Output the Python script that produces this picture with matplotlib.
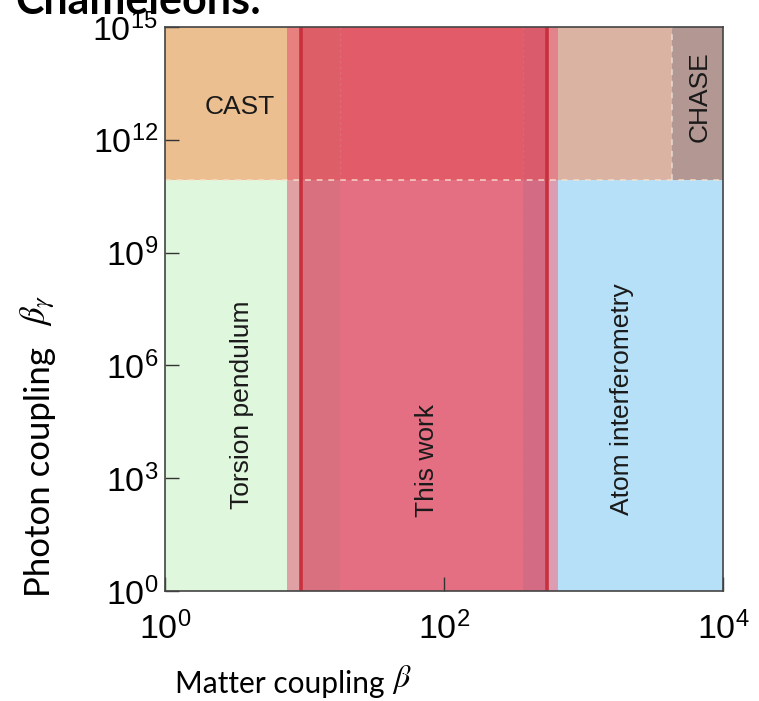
import matplotlib
matplotlib.use("Agg")
import matplotlib.pyplot as plt
import numpy as np

plt.rcParams["mathtext.fontset"] = "custom"
plt.rcParams["mathtext.rm"] = "Liberation Sans"
plt.rcParams["mathtext.it"] = "Liberation Sans:italic"
plt.rcParams["mathtext.bf"] = "Liberation Sans:bold"

# ---- data ----
x_min, x_max = 1.0, 1e4
y_min, y_max = 1.0, 1e15
cast_limit = 8.5e10          # CAST photon-coupling bound
torsion_max = 7.45           # torsion pendulum upper beta
work_lo = 9.4                # this work: lower red line
work_hi = 550.0              # this work: upper red line
work_inner_lo = 18.0         # darker inner band edges
work_inner_hi = 368.0
atom_min = 656.0             # atom interferometry lower beta
chase_min = 4300.0           # CHASE lower beta

labels = ["CAST", "Torsion pendulum", "This work", "Atom interferometry", "CHASE"]
label_x = [3.45, 3.56, 75.5, 1890.0, 6840.0]
label_y = [10**12.87, 10**4.95, 10**3.48, 10**5.1, 10**13.14]
label_rot = [0, 90, 90, 90, 90]

xticks = [1, 1e2, 1e4]
yticks = [1, 1e3, 1e6, 1e9, 1e12, 1e15]

fig = plt.figure(figsize=(7.59, 7.01), dpi=100)
ax = fig.add_axes([165/759, 1-591/701, (723-165)/759, (591-27)/701])
ax.set_xscale("log")
ax.set_yscale("log")
ax.set_xlim(x_min, x_max)
ax.set_ylim(y_min, y_max)

def rect(x0, x1, y0, y1, color, z=1):
    ax.fill_between([x0, x1], [y0, y0], [y1, y1], color=color, lw=0, zorder=z)

# lower (below CAST) and upper (above CAST) colours
rect(x_min, torsion_max, y_min, cast_limit, "#dff7dc")
rect(x_min, torsion_max, cast_limit, y_max, "#ecbf90")
rect(torsion_max, work_lo, y_min, cast_limit, "#dfa1a4")
rect(torsion_max, work_lo, cast_limit, y_max, "#e8807f")
rect(work_lo, work_hi, y_min, cast_limit, "#e56f82")
rect(work_lo, work_hi, cast_limit, y_max, "#e25b68")
rect(work_lo, work_inner_lo, y_min, cast_limit, "#d9707f", 2)
rect(work_lo, work_inner_lo, cast_limit, y_max, "#dd5e66", 2)
rect(work_inner_hi, work_hi, y_min, cast_limit, "#d36b85", 2)
rect(work_inner_hi, work_hi, cast_limit, y_max, "#da5b6c", 2)
rect(work_hi, atom_min, y_min, cast_limit, "#dc9cb2")
rect(work_hi, atom_min, cast_limit, y_max, "#e3848c")
rect(atom_min, x_max, y_min, cast_limit, "#b5e0f8")
rect(atom_min, chase_min, cast_limit, y_max, "#dab3a3")
rect(chase_min, x_max, cast_limit, y_max, "#b29792")

# boundaries
ax.plot([x_min, x_max], [cast_limit, cast_limit], ls=(0, (3, 3)), color="#f6e2cf",
        lw=1.4, alpha=0.7, zorder=3)
ax.plot([chase_min, chase_min], [cast_limit, y_max], ls=(0, (3, 3)), color="#ece0dc",
        lw=1.4, alpha=0.7, zorder=3)
ax.plot([work_inner_lo, work_inner_lo], [y_min, y_max], ls=(0, (2, 2)), color="#e07585",
        lw=1.0, alpha=0.6, zorder=3)
ax.plot([work_inner_hi, work_inner_hi], [y_min, y_max], ls=(0, (2, 2)), color="#d87088",
        lw=1.0, alpha=0.6, zorder=3)
for xv in (work_lo, work_hi):
    ax.plot([xv, xv], [y_min, y_max], color="#c9303d", lw=2.6, zorder=4)

for t, xx, yy, r in zip(labels, label_x, label_y, label_rot):
    ax.text(xx, yy, t, rotation=r, ha="center", va="center", fontsize=19,
            family="Liberation Sans", color="#1a1a1a", zorder=5)

ax.set_xticks(xticks)
ax.set_yticks(yticks)
ax.minorticks_off()
ax.tick_params(direction="in", length=10, width=1.0, color="#333333",
               labelsize=24.5)
ax.tick_params(axis="x", pad=15)
ax.tick_params(axis="y", pad=5)
for lab in ax.get_xticklabels() + ax.get_yticklabels():
    lab.set_family("Liberation Sans")
for s in ax.spines.values():
    s.set_linewidth(1.2)
    s.set_color("#444444")
    s.set_zorder(6)

# axis labels (slide annotations)
fig.text(175/759, 1-684/701, "Matter coupling", fontsize=21.5, family="Lato",
         ha="left", va="center")
fig.text(392/759, 1-680/701, r"$\beta$", fontsize=23, ha="left", va="center",
         math_fontfamily="stix")
fig.text(40/759, 1-472/701, "Photon coupling", fontsize=25, family="Lato",
         rotation=90, ha="center", va="center")
fig.text(38/759, 1-310/701, r"$\beta_\gamma$", fontsize=25, rotation=90,
         ha="center", va="center", math_fontfamily="stix")

fig.text(15/759, 1-14/701, "Chameleons:", fontsize=31, family="Lato",
         weight="bold", ha="left", va="baseline")

fig.savefig("out.png", dpi=100)
